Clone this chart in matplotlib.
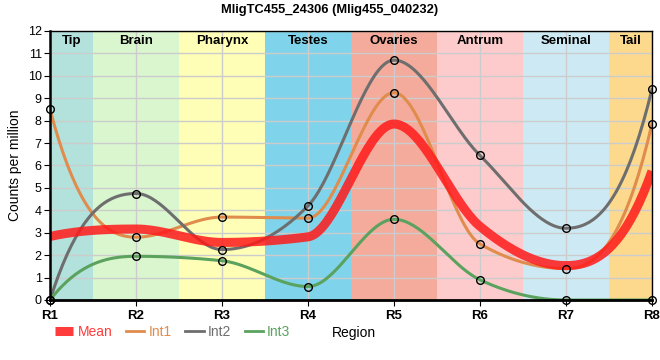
import numpy as np
import matplotlib
matplotlib.use('Agg')
import matplotlib.pyplot as plt
from matplotlib.lines import Line2D

plt.rcParams['font.family'] = ['Liberation Sans', 'DejaVu Sans']

# data
regions = ['R1', 'R2', 'R3', 'R4', 'R5', 'R6', 'R7', 'R8']
band_names = ['Tip', 'Brain', 'Pharynx', 'Testes', 'Ovaries', 'Antrum', 'Seminal', 'Tail']
band_colors = ['#b3e2dd', '#d9f6cf', '#fefeb6', '#7fd3ea', '#f4ab9c', '#fdcbcc', '#cdeaf4', '#fdd98e']
int1 = [8.5, 2.8, 3.7, 3.65, 9.25, 2.5, 1.4, 7.85]
int2 = [0.0, 4.75, 2.25, 4.2, 10.7, 6.45, 3.2, 9.4]
int3 = [0.0, 1.95, 1.75, 0.6, 3.6, 0.9, 0.0, 0.0]
mean = [(a + b + c) / 3 for a, b, c in zip(int1, int2, int3)]


def monotone(y, n=40):
    # monotone cubic through the points, unit spacing, steeper ends
    y = np.asarray(y, float)
    k = len(y)
    s = np.diff(y)
    t = np.zeros(k)
    for i in range(1, k - 1):
        s0, s1 = s[i - 1], s[i]
        p = (s0 + s1) / 2
        t[i] = (np.sign(s0) + np.sign(s1)) * min(abs(s0), abs(s1), 0.5 * abs(p))
    t[0] = 1.7 * (3 * s[0] - t[1]) / 2
    t[-1] = 1.7 * (3 * s[-1] - t[-2]) / 2
    xs, ys = [], []
    for i in range(k - 1):
        u = np.linspace(0, 1, n, endpoint=False)
        h00 = 2 * u**3 - 3 * u**2 + 1
        h10 = u**3 - 2 * u**2 + u
        h01 = -2 * u**3 + 3 * u**2
        h11 = u**3 - u**2
        xs.append(i + u)
        ys.append(h00 * y[i] + h10 * t[i] + h01 * y[i + 1] + h11 * t[i + 1])
    xs.append([k - 1])
    ys.append([y[-1]])
    return np.concatenate(xs), np.concatenate(ys)


fig = plt.figure(figsize=(6.6, 3.6), dpi=100)
ax = fig.add_axes([0.0758, 0.1667, 0.912, 0.7472])

x = np.arange(len(regions))
for i, (name, col) in enumerate(zip(band_names, band_colors)):
    lo = max(i - 0.5, 0)
    hi = min(i + 0.5, len(regions) - 1)
    ax.axvspan(lo, hi, color=col, zorder=0, lw=0)
    ax.text((lo + hi) / 2, 11.55, name, ha='center', va='center',
            fontsize=9.5, fontweight='bold', zorder=5)

ax.set_xlim(0, len(regions) - 1)
ax.set_ylim(0, 12)
ax.set_xticks(x)
ax.set_xticklabels(regions, fontsize=9.5, fontweight='bold')
ax.set_yticks(range(0, 13))
ax.tick_params(axis='y', labelsize=9, length=4, pad=2)
ax.tick_params(axis='x', length=4)
ax.grid(True, color='#cccccc', lw=1, zorder=1)
ax.set_axisbelow(False)
for sp in ax.spines.values():
    sp.set_zorder(6)
ax.spines['bottom'].set_linewidth(2)
ax.spines['left'].set_linewidth(1.8)
ax.spines['top'].set_linewidth(1)
ax.spines['right'].set_linewidth(1)
ax.set_ylabel('Counts per million', fontsize=10, labelpad=4)

series = [('Int1', int1, '#e08c4c'), ('Int2', int2, '#6e6e6e'), ('Int3', int3, '#5ba25f')]
for name, vals, col in series:
    cx, cy = monotone(vals)
    ax.plot(cx, cy, color=col, lw=2.2, zorder=3)
mx, my = monotone(mean)
ax.plot(mx, my, color='#ff1a1a', lw=6.5, alpha=0.85, zorder=4, solid_capstyle='butt')
for name, vals, col in series:
    ax.plot(x, vals, 'o', ms=5.5, mfc='none', mec='black', mew=1, zorder=7, clip_on=False)

fig.suptitle('MligTC455_24306 (Mlig455_040232)', fontsize=9.3, fontweight='bold', y=0.99)

handles = [Line2D([], [], color='#ff1a1a', lw=6.5, alpha=0.85, solid_capstyle='butt'),
           Line2D([], [], color='#e08c4c', lw=2),
           Line2D([], [], color='#6e6e6e', lw=2),
           Line2D([], [], color='#5ba25f', lw=2)]
leg = fig.legend(handles, ['Mean', 'Int1', 'Int2', 'Int3'], loc='center left',
                 bbox_to_anchor=(0.065, 0.078), ncol=4, frameon=False, fontsize=10,
                 handlelength=1.3, handletextpad=0.3, columnspacing=1.0)
for txt, col in zip(leg.get_texts(), ['#ff3b3b', '#e08c4c', '#6e6e6e', '#5ba25f']):
    txt.set_color(col)
fig.text(0.503, 0.076, 'Region', fontsize=10, va='center')

fig.savefig('out.png', dpi=100)
